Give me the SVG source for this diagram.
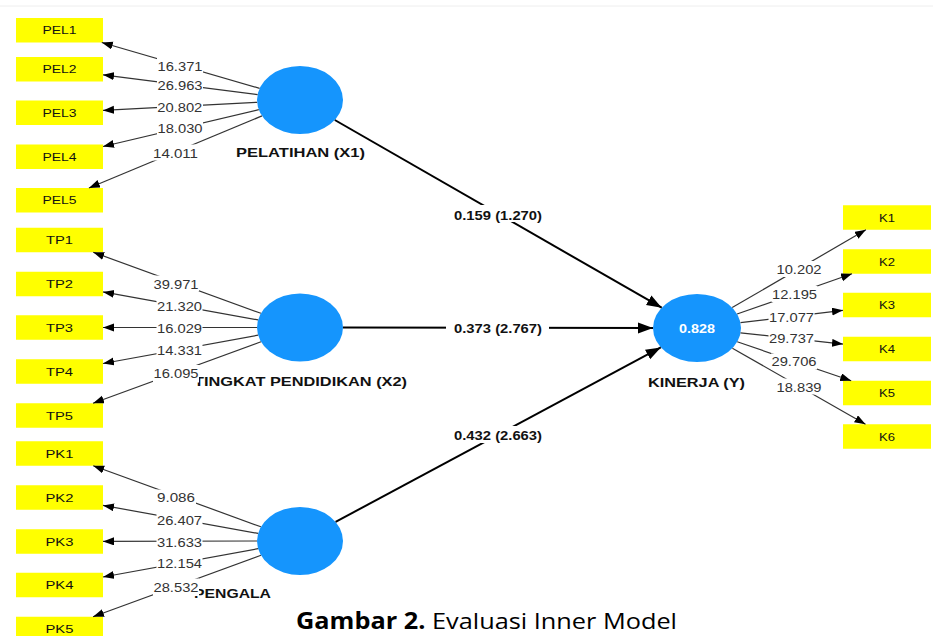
<svg xmlns="http://www.w3.org/2000/svg" width="933" height="636" viewBox="0 0 933 636">
<style>
.box{fill:#FFFF00}
.bl{font-family:"Liberation Sans",Arial,sans-serif;font-size:11.5px;fill:#111;text-anchor:middle}
.lv{fill:#1595FD}
.nl{font-family:"Liberation Sans",Arial,sans-serif;font-size:12.5px;font-weight:bold;fill:#111;text-anchor:middle}
.r2{font-family:"Liberation Sans",Arial,sans-serif;font-size:12.5px;font-weight:bold;fill:#fff;text-anchor:middle}
.o{stroke:#333;stroke-width:1.2;fill:none;marker-end:url(#a)}
.i{stroke:#000;stroke-width:2;fill:none;marker-end:url(#b)}
.lb{fill:#fff}
.ol{font-family:"Liberation Sans",Arial,sans-serif;font-size:13.5px;fill:#333;text-anchor:middle}
.pl{font-family:"Liberation Sans",Arial,sans-serif;font-size:13.5px;font-weight:bold;fill:#111;text-anchor:middle}
</style>
<defs>
<marker id="a" markerUnits="userSpaceOnUse" markerWidth="12" markerHeight="9" refX="11" refY="4" orient="auto"><path d="M0,0 L11,4 L0,8 z" fill="#000"/></marker>
<marker id="b" markerUnits="userSpaceOnUse" markerWidth="16" markerHeight="12" refX="15" refY="5.5" orient="auto"><path d="M0,0 L15,5.5 L0,11 z" fill="#000"/></marker>
</defs>
<rect width="933" height="636" fill="#fff"/>
<line x1="0" y1="6" x2="933" y2="6" stroke="#eeeeee" stroke-width="1"/>

<g id="PEL1"><rect class="box" x="16" y="18" width="87" height="24.5"/><text class="bl" x="59.5" y="34.4" textLength="34" lengthAdjust="spacingAndGlyphs">PEL1</text></g>
<g id="PEL2"><rect class="box" x="16" y="57" width="87" height="24.5"/><text class="bl" x="59.5" y="73.4" textLength="34" lengthAdjust="spacingAndGlyphs">PEL2</text></g>
<g id="PEL3"><rect class="box" x="16" y="100.5" width="87" height="24.5"/><text class="bl" x="59.5" y="116.9" textLength="34" lengthAdjust="spacingAndGlyphs">PEL3</text></g>
<g id="PEL4"><rect class="box" x="16" y="144.5" width="87" height="24.5"/><text class="bl" x="59.5" y="160.9" textLength="34" lengthAdjust="spacingAndGlyphs">PEL4</text></g>
<g id="PEL5"><rect class="box" x="16" y="188" width="87" height="24.5"/><text class="bl" x="59.5" y="204.4" textLength="34" lengthAdjust="spacingAndGlyphs">PEL5</text></g>

<g id="TP1"><rect class="box" x="16" y="227.75" width="87" height="24.5"/><text class="bl" x="59.5" y="244.2" textLength="27" lengthAdjust="spacingAndGlyphs">TP1</text></g>
<g id="TP2"><rect class="box" x="16" y="271.75" width="87" height="24.5"/><text class="bl" x="59.5" y="288.2" textLength="27" lengthAdjust="spacingAndGlyphs">TP2</text></g>
<g id="TP3"><rect class="box" x="16" y="315.25" width="87" height="24.5"/><text class="bl" x="59.5" y="331.7" textLength="27" lengthAdjust="spacingAndGlyphs">TP3</text></g>
<g id="TP4"><rect class="box" x="16" y="359.25" width="87" height="24.5"/><text class="bl" x="59.5" y="375.7" textLength="27" lengthAdjust="spacingAndGlyphs">TP4</text></g>
<g id="TP5"><rect class="box" x="16" y="403.25" width="87" height="24.5"/><text class="bl" x="59.5" y="419.7" textLength="27" lengthAdjust="spacingAndGlyphs">TP5</text></g>

<g id="PK1"><rect class="box" x="16" y="441.25" width="87" height="24.5"/><text class="bl" x="59.5" y="457.7" textLength="28" lengthAdjust="spacingAndGlyphs">PK1</text></g>
<g id="PK2"><rect class="box" x="16" y="485.25" width="87" height="24.5"/><text class="bl" x="59.5" y="501.7" textLength="28" lengthAdjust="spacingAndGlyphs">PK2</text></g>
<g id="PK3"><rect class="box" x="16" y="529.25" width="87" height="24.5"/><text class="bl" x="59.5" y="545.7" textLength="28" lengthAdjust="spacingAndGlyphs">PK3</text></g>
<g id="PK4"><rect class="box" x="16" y="572.75" width="87" height="24.5"/><text class="bl" x="59.5" y="589.2" textLength="28" lengthAdjust="spacingAndGlyphs">PK4</text></g>
<g id="PK5"><rect class="box" x="16" y="616.75" width="87" height="24.5"/><text class="bl" x="59.5" y="633.2" textLength="28" lengthAdjust="spacingAndGlyphs">PK5</text></g>

<g id="K1"><rect class="box" x="843" y="205.25" width="88" height="24.5"/><text class="bl" x="887" y="221.7" textLength="16" lengthAdjust="spacingAndGlyphs">K1</text></g>
<g id="K2"><rect class="box" x="843" y="249.25" width="88" height="24.5"/><text class="bl" x="887" y="265.7" textLength="16" lengthAdjust="spacingAndGlyphs">K2</text></g>
<g id="K3"><rect class="box" x="843" y="292.75" width="88" height="24.5"/><text class="bl" x="887" y="309.2" textLength="16" lengthAdjust="spacingAndGlyphs">K3</text></g>
<g id="K4"><rect class="box" x="843" y="336.75" width="88" height="24.5"/><text class="bl" x="887" y="353.2" textLength="16" lengthAdjust="spacingAndGlyphs">K4</text></g>
<g id="K5"><rect class="box" x="843" y="380.75" width="88" height="24.5"/><text class="bl" x="887" y="397.2" textLength="16" lengthAdjust="spacingAndGlyphs">K5</text></g>
<g id="K6"><rect class="box" x="843" y="424.25" width="88" height="24.5"/><text class="bl" x="887" y="440.7" textLength="16" lengthAdjust="spacingAndGlyphs">K6</text></g>

<g id="X1"><ellipse class="lv" cx="300" cy="100" rx="43" ry="34"/><text class="nl" x="300.5" y="157" textLength="129" lengthAdjust="spacingAndGlyphs">PELATIHAN (X1)</text></g>
<g id="X2"><ellipse class="lv" cx="300" cy="327.5" rx="43" ry="34"/><text class="nl" x="300.5" y="386" textLength="213" lengthAdjust="spacingAndGlyphs">TINGKAT PENDIDIKAN (X2)</text></g>
<g id="X3"><ellipse class="lv" cx="300" cy="541" rx="43" ry="34"/><text class="nl" x="194" y="598" style="text-anchor:start" textLength="77" lengthAdjust="spacingAndGlyphs">PENGALA</text></g>
<g id="Y"><ellipse class="lv" cx="697" cy="328" rx="44" ry="34"/><text class="r2" x="697" y="332.5" textLength="36" lengthAdjust="spacingAndGlyphs">0.828</text><text class="nl" x="696.5" y="387" textLength="97" lengthAdjust="spacingAndGlyphs">KINERJA (Y)</text></g>

<g id="connectors">
<line class="o" x1="259.6" y1="88.3" x2="101.8" y2="42.5"/>
<line class="o" x1="257.6" y1="94.6" x2="103" y2="74.8"/>
<line class="o" x1="257.1" y1="102.3" x2="103" y2="110.4"/>
<line class="o" x1="258.8" y1="109.7" x2="103" y2="146.5"/>
<line class="o" x1="262" y1="115.9" x2="88.9" y2="188"/>
<line class="o" x1="260.9" y1="313.3" x2="93.2" y2="252.25"/>
<line class="o" x1="258.1" y1="319.9" x2="103" y2="291.9"/>
<line class="o" x1="257" y1="327.5" x2="103" y2="327.5"/>
<line class="o" x1="258.1" y1="335.2" x2="103" y2="363.5"/>
<line class="o" x1="261" y1="341.8" x2="93" y2="403.25"/>
<line class="o" x1="260.9" y1="526.8" x2="93.2" y2="465.75"/>
<line class="o" x1="258.1" y1="533.4" x2="103" y2="505.4"/>
<line class="o" x1="257" y1="541" x2="103" y2="541.4"/>
<line class="o" x1="258.1" y1="548.7" x2="103" y2="577"/>
<line class="o" x1="261" y1="555.3" x2="93" y2="616.75"/>
<line class="o" x1="732.2" y1="307.6" x2="865.9" y2="229.75"/>
<line class="o" x1="737.1" y1="314" x2="852" y2="273.75"/>
<line class="o" x1="740.5" y1="322.7" x2="843" y2="310.3"/>
<line class="o" x1="740.5" y1="332.8" x2="843" y2="344.1"/>
<line class="o" x1="737.2" y1="341.8" x2="851.2" y2="380.75"/>
<line class="o" x1="732.4" y1="348.2" x2="865.5" y2="424.25"/>
<line class="i" x1="334.8" y1="120" x2="661.7" y2="307.7"/>
<line class="i" x1="343" y1="327.5" x2="653" y2="328"/>
<line class="i" x1="335.6" y1="521.9" x2="660.8" y2="347.4"/>

<rect class="lb" x="157" y="58" width="46" height="16"/><text class="ol" x="180" y="71" textLength="45" lengthAdjust="spacingAndGlyphs">16.371</text>
<rect class="lb" x="157" y="77.5" width="46" height="16"/><text class="ol" x="180" y="90.3" textLength="45" lengthAdjust="spacingAndGlyphs">26.963</text>
<rect class="lb" x="157" y="99" width="46" height="16"/><text class="ol" x="179.8" y="111.8" textLength="45" lengthAdjust="spacingAndGlyphs">20.802</text>
<rect class="lb" x="157" y="120.5" width="46" height="16"/><text class="ol" x="180" y="133.3" textLength="45" lengthAdjust="spacingAndGlyphs">18.030</text>
<rect class="lb" x="152.5" y="144.5" width="46" height="16"/><text class="ol" x="175.5" y="157.5" textLength="45" lengthAdjust="spacingAndGlyphs">14.011</text>

<rect class="lb" x="153" y="275.5" width="46" height="16"/><text class="ol" x="176" y="288.6" textLength="45" lengthAdjust="spacingAndGlyphs">39.971</text>
<rect class="lb" x="156.5" y="298" width="46" height="16"/><text class="ol" x="179.5" y="311" textLength="45" lengthAdjust="spacingAndGlyphs">21.320</text>
<rect class="lb" x="156.5" y="320" width="46" height="16"/><text class="ol" x="179.5" y="332.9" textLength="45" lengthAdjust="spacingAndGlyphs">16.029</text>
<rect class="lb" x="156.5" y="342" width="46" height="16"/><text class="ol" x="179.5" y="354.9" textLength="45" lengthAdjust="spacingAndGlyphs">14.331</text>
<rect class="lb" x="153" y="365" width="46" height="17.5"/><text class="ol" x="176" y="378" textLength="45" lengthAdjust="spacingAndGlyphs">16.095</text>

<rect class="lb" x="156" y="489.5" width="40" height="16"/><text class="ol" x="176" y="502.3" textLength="38" lengthAdjust="spacingAndGlyphs">9.086</text>
<rect class="lb" x="156.5" y="511.5" width="46" height="16"/><text class="ol" x="179.5" y="524.5" textLength="45" lengthAdjust="spacingAndGlyphs">26.407</text>
<rect class="lb" x="156.5" y="533.5" width="46" height="16"/><text class="ol" x="179.5" y="546.6" textLength="45" lengthAdjust="spacingAndGlyphs">31.633</text>
<rect class="lb" x="156.5" y="555.5" width="46" height="16"/><text class="ol" x="179.5" y="568.3" textLength="45" lengthAdjust="spacingAndGlyphs">12.154</text>
<rect class="lb" x="153" y="578.5" width="46" height="17.5"/><text class="ol" x="176" y="591.6" textLength="45" lengthAdjust="spacingAndGlyphs">28.532</text>

<rect class="lb" x="776" y="261" width="46" height="16"/><text class="ol" x="799" y="274" textLength="45" lengthAdjust="spacingAndGlyphs">10.202</text>
<rect class="lb" x="771.5" y="286" width="46" height="16"/><text class="ol" x="794.5" y="299" textLength="45" lengthAdjust="spacingAndGlyphs">12.195</text>
<rect class="lb" x="768.5" y="308.5" width="46" height="16"/><text class="ol" x="791.5" y="321.6" textLength="45" lengthAdjust="spacingAndGlyphs">17.077</text>
<rect class="lb" x="768.5" y="330.5" width="46" height="16"/><text class="ol" x="791.5" y="343.4" textLength="45" lengthAdjust="spacingAndGlyphs">29.737</text>
<rect class="lb" x="771" y="353.5" width="46" height="16"/><text class="ol" x="794" y="366.3" textLength="45" lengthAdjust="spacingAndGlyphs">29.706</text>
<rect class="lb" x="776" y="378.5" width="46" height="16"/><text class="ol" x="799" y="391.6" textLength="45" lengthAdjust="spacingAndGlyphs">18.839</text>

<rect class="lb" x="446" y="205" width="103" height="17"/><text class="pl" x="498" y="219.8" textLength="88" lengthAdjust="spacingAndGlyphs">0.159 (1.270)</text>
<rect class="lb" x="446" y="319" width="103" height="17"/><text class="pl" x="498" y="332.7" textLength="88" lengthAdjust="spacingAndGlyphs">0.373 (2.767)</text>
<rect class="lb" x="446" y="426" width="103" height="17"/><text class="pl" x="498" y="440" textLength="88" lengthAdjust="spacingAndGlyphs">0.432 (2.663)</text>
</g>

<rect x="275" y="586" width="658" height="50" fill="#fff"/>
<text x="296" y="629" font-family="'Open Sans','Noto Sans',sans-serif" font-size="22.5px" fill="#000" textLength="381" lengthAdjust="spacingAndGlyphs"><tspan font-weight="bold">Gambar 2.</tspan> Evaluasi Inner Model</text>
</svg>
